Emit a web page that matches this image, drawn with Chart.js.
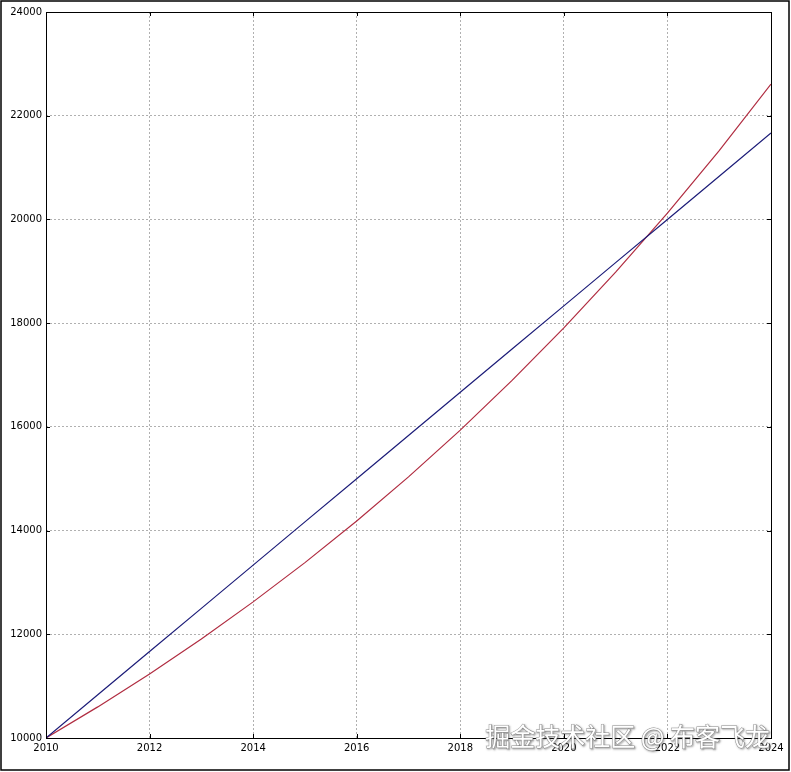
<!DOCTYPE html>
<html>
<head>
<meta charset="utf-8">
<script src="https://cdn.jsdelivr.net/npm/chart.js@4/dist/chart.umd.min.js"></script>
<style>
  html, body { margin: 0; padding: 0; background: #fff; }
  canvas { display: block; }
</style>
</head>
<body>
<canvas id="chart" width="791" height="772"></canvas>
<script>
// years on the x axis
var years = [2010, 2011, 2012, 2013, 2014, 2015, 2016, 2017, 2018, 2019, 2020, 2021, 2022, 2023, 2024];
// straight (blue) line
var linearVals = [10000, 10833, 11667, 12500, 13333, 14167, 15000, 15833, 16667, 17500, 18333, 19167, 20000, 20833, 21667];
// curved (red) line
var curveVals = [10000, 10600, 11236, 11910, 12625, 13382, 14185, 15036, 15938, 16895, 17908, 18983, 20122, 21329, 22609];
var xTicks = [2010, 2012, 2014, 2016, 2018, 2020, 2022, 2024];
var yTicks = [10000, 12000, 14000, 16000, 18000, 20000, 22000, 24000];
var watermark = "掘金技术社区 @ 布客飞龙";

function toPoints(vals) {
  var pts = [];
  for (var i in vals) {
    pts.push({ x: years[i], y: vals[i] });
  }
  return pts;
}

// frame, inward ticks, outer border and watermark
var decor = {
  id: 'decor',
  afterDraw: function(chart) {
    var ctx = chart.ctx;
    var a = chart.chartArea;
    var xs = chart.scales.x, ys = chart.scales.y;
    ctx.save();
    ctx.strokeStyle = '#000';
    ctx.lineWidth = 1;
    ctx.strokeRect(Math.round(a.left) + 0.5, Math.round(a.top) + 0.5,
                   Math.round(a.right - a.left), Math.round(a.bottom - a.top));
    ctx.beginPath();
    for (var i in xTicks) {
      var px = Math.round(xs.getPixelForValue(xTicks[i])) + 0.5;
      ctx.moveTo(px, a.bottom); ctx.lineTo(px, a.bottom - 4);
      ctx.moveTo(px, a.top); ctx.lineTo(px, a.top + 4);
    }
    for (var j in yTicks) {
      var py = Math.round(ys.getPixelForValue(yTicks[j])) + 0.5;
      ctx.moveTo(a.left, py); ctx.lineTo(a.left + 4, py);
      ctx.moveTo(a.right, py); ctx.lineTo(a.right - 4, py);
    }
    ctx.stroke();
    // outer figure border
    ctx.lineWidth = 1.5;
    ctx.strokeRect(1, 1, 788, 769);
    // watermark
    ctx.font = '25px "Noto Sans CJK SC", sans-serif';
    ctx.textAlign = 'right';
    ctx.textBaseline = 'alphabetic';
    ctx.shadowColor = 'rgba(70,70,70,0.9)';
    ctx.shadowBlur = 2;
    ctx.shadowOffsetX = 1;
    ctx.shadowOffsetY = 1;
    ctx.lineWidth = 1;
    ctx.strokeStyle = 'rgba(120,120,120,0.8)';
    ctx.strokeText(watermark, 770, 746);
    ctx.shadowColor = 'transparent';
    ctx.fillStyle = '#ffffff';
    ctx.fillText(watermark, 770, 746);
    ctx.restore();
  }
};

new Chart(document.getElementById('chart'), {
  type: 'line',
  data: {
    datasets: [{
      label: 'linear',
      data: toPoints(linearVals),
      borderColor: '#1c1c78',
      borderWidth: 1.2,
      pointRadius: 0,
      tension: 0
    }, {
      label: 'curve',
      data: toPoints(curveVals),
      borderColor: '#b02c40',
      borderWidth: 1.2,
      pointRadius: 0,
      tension: 0
    }]
  },
  options: {
    responsive: false,
    animation: false,
    devicePixelRatio: 1,
    layout: { padding: { top: 12, right: 20, left: 0, bottom: 0 } },
    plugins: { legend: { display: false }, tooltip: { enabled: false } },
    scales: {
      x: {
        type: 'linear',
        min: 2010,
        max: 2024,
        afterFit: function(s) { s.height = 34; },
        afterBuildTicks: function(s) { s.ticks = xTicks.map(function(v) { return { value: v }; }); },
        grid: { color: '#b0b0b0', drawTicks: false, lineWidth: 1 },
        border: { display: false, dash: [2, 2] },
        ticks: { padding: 4, color: '#000', font: { family: 'DejaVu Sans', size: 10 },
                 callback: function(v) { return String(v); } }
      },
      y: {
        type: 'linear',
        min: 10000,
        max: 24000,
        afterFit: function(s) { s.width = 46; },
        afterBuildTicks: function(s) { s.ticks = yTicks.map(function(v) { return { value: v }; }); },
        grid: { color: '#b0b0b0', drawTicks: false, lineWidth: 1 },
        border: { display: false, dash: [2, 2] },
        ticks: { padding: 4, color: '#000', font: { family: 'DejaVu Sans', size: 10 },
                 callback: function(v) { return String(v); } }
      }
    }
  },
  plugins: [decor]
});
</script>
</body>
</html>
